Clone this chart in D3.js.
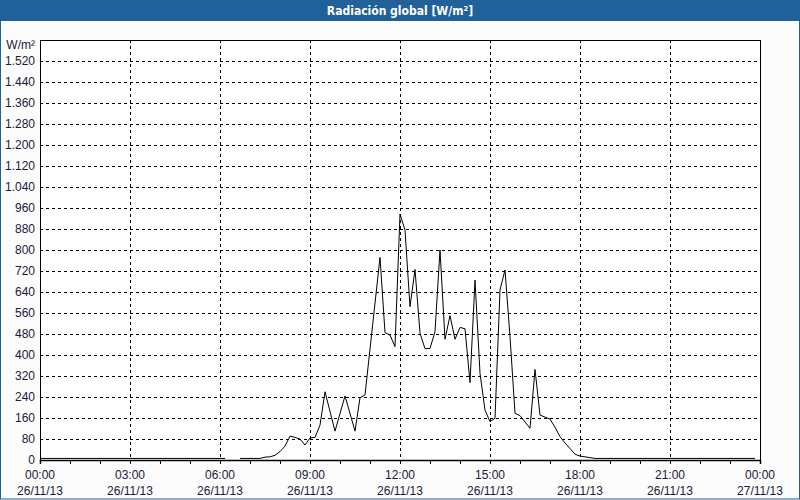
<!DOCTYPE html>
<html>
<head>
<meta charset="utf-8">
<script src="https://cdn.jsdelivr.net/npm/d3@7"></script>
<style>
  html, body { margin: 0; padding: 0; background: #fbfcfb; }
  svg { display: block; }
</style>
</head>
<body>
<svg id="chart" width="800" height="500"></svg>
<script>
const title = 'Radiación global [W/m²]';
const unitLabel = 'W/m²';

// first segment (night, before the data gap)
const times1 = ['00:00', '06:10'];
const values1 = [6, 6];

// second segment (after the gap)
const times2 = [
  '06:40', '07:20', '07:30', '07:40', '07:50', '08:00', '08:10', '08:20', '08:30', '08:40',
  '08:50', '09:00', '09:10', '09:20', '09:30', '09:50', '10:10', '10:30', '10:40', '10:50',
  '11:20', '11:30', '11:40', '11:50', '12:00', '12:10', '12:20', '12:30', '12:40', '12:50',
  '13:00', '13:10', '13:20', '13:30', '13:40', '13:50', '14:00', '14:10', '14:20', '14:30',
  '14:40', '14:50', '15:00', '15:10', '15:20', '15:30', '15:40', '15:50', '16:00', '16:20',
  '16:30', '16:40', '17:00', '17:10', '17:20', '17:30', '17:40', '17:50', '18:00', '18:20',
  '18:30', '23:50'
];
const values2 = [
  6, 6, 11, 12, 18, 32, 53, 91, 86, 80,
  57, 84, 86, 133, 260, 110, 244, 110, 237, 248,
  772, 485, 476, 432, 937, 876, 584, 726, 483, 424,
  425, 489, 800, 460, 550, 460, 505, 500, 295, 685,
  330, 190, 146, 159, 648, 724, 470, 178, 169, 121,
  345, 171, 156, 125, 89, 65, 44, 22, 15, 9,
  6, 6
];

const yTicks = d3.range(0, 1600, 80);
const xTicks = [0, 3, 6, 9, 12, 15, 18, 21, 24];
const xTickLabels = ['00:00', '03:00', '06:00', '09:00', '12:00', '15:00', '18:00', '21:00', '00:00'];
const xTickDates = ['26/11/13', '26/11/13', '26/11/13', '26/11/13', '26/11/13', '26/11/13', '26/11/13', '26/11/13', '27/11/13'];

const toHours = s => { const [h, m] = s.split(':').map(Number); return h + m / 60; };

const width = 800, height = 500;
const margin = { top: 40, right: 40, bottom: 40, left: 40 };

const svg = d3.select('#chart');

// window frame
svg.append('rect')
  .attr('x', 0.5).attr('y', 0.5)
  .attr('width', width - 1).attr('height', height - 1.5)
  .attr('fill', '#fbfcfb')
  .attr('stroke', '#1f6198');

// title bar
svg.append('rect')
  .attr('x', 0).attr('y', 0)
  .attr('width', width).attr('height', 21)
  .attr('fill', '#1f6198');

svg.append('text')
  .attr('x', width / 2).attr('y', 15)
  .attr('text-anchor', 'middle')
  .attr('fill', '#fff')
  .attr('font-family', 'Tahoma, "DejaVu Sans Condensed", "DejaVu Sans", sans-serif')
  .attr('font-weight', 'bold')
  .attr('font-size', '12px')
  .text(title);

const x = d3.scaleLinear().domain([0, 24]).range([margin.left, width - margin.right]);
const y = d3.scaleLinear().domain([0, 1600]).range([height - margin.bottom, margin.top]);

const g = svg.append('g');

g.append('rect')
  .attr('x', x(0)).attr('y', y(1600))
  .attr('width', x(24) - x(0)).attr('height', y(0) - y(1600))
  .attr('fill', '#fff');

// horizontal grid
g.append('g')
  .selectAll('line')
  .data(yTicks.filter(d => d > 0))
  .join('line')
  .attr('x1', x(0)).attr('x2', x(24))
  .attr('y1', d => Math.round(y(d)) + 0.5).attr('y2', d => Math.round(y(d)) + 0.5)
  .attr('stroke', '#000')
  .attr('stroke-dasharray', '3,3')
  .attr('shape-rendering', 'crispEdges');

// vertical grid
g.append('g')
  .selectAll('line')
  .data(xTicks.slice(1, -1))
  .join('line')
  .attr('x1', d => Math.round(x(d)) + 0.5).attr('x2', d => Math.round(x(d)) + 0.5)
  .attr('y1', y(1600)).attr('y2', y(0))
  .attr('stroke', '#000')
  .attr('stroke-dasharray', '3,3')
  .attr('shape-rendering', 'crispEdges');

// frame
g.append('rect')
  .attr('x', x(0) + 0.5).attr('y', y(1600) + 0.5)
  .attr('width', x(24) - x(0)).attr('height', y(0) - y(1600))
  .attr('fill', 'none')
  .attr('stroke', '#000')
  .attr('shape-rendering', 'crispEdges');

const fmt = d3.formatLocale({ decimal: ',', thousands: '.', grouping: [3], currency: ['', '€'] }).format(',d');
const labelFont = 'Tahoma, "Liberation Sans", sans-serif';

// Y axis
g.append('g')
  .attr('transform', `translate(${x(0)},0)`)
  .call(d3.axisLeft(y).tickValues(yTicks).tickSize(0).tickPadding(5).tickFormat(fmt))
  .call(a => a.select('.domain').remove())
  .selectAll('text')
  .attr('fill', '#1a1a3a')
  .attr('font-family', labelFont)
  .attr('font-size', '12px');

svg.append('text')
  .attr('x', 35).attr('y', y(1600) + 9)
  .attr('text-anchor', 'end')
  .attr('fill', '#1a1a3a')
  .attr('font-family', labelFont)
  .attr('font-size', '12px')
  .text(unitLabel);

// X axis (hourly ticks)
const xAxis = g.append('g')
  .attr('transform', `translate(0,${y(0)})`)
  .call(d3.axisBottom(x).tickValues(d3.range(0, 25, 1)).tickSize(4).tickFormat(''))
  .call(a => a.select('.domain').attr('stroke', '#000').attr('stroke-width', 1.5));
xAxis.selectAll('line').attr('stroke', '#000');

const xl = g.append('g')
  .selectAll('text')
  .data(xTicks)
  .join('text')
  .attr('x', d => x(d))
  .attr('text-anchor', 'middle')
  .attr('fill', '#1a1a3a')
  .attr('font-family', labelFont)
  .attr('font-size', '12px');
xl.append('tspan').attr('x', d => x(d)).attr('y', y(0) + 19).text((d, i) => xTickLabels[i]);
xl.append('tspan').attr('x', d => x(d)).attr('y', y(0) + 35).text((d, i) => xTickDates[i]);

// data line
const line = d3.line()
  .x(d => x(d[0]))
  .y(d => y(d[1]));

const seg1 = times1.map((t, i) => [toHours(t), values1[i]]);
const seg2 = times2.map((t, i) => [toHours(t), values2[i]]);

[seg1, seg2].forEach(seg => {
  g.append('path')
    .datum(seg)
    .attr('fill', 'none')
    .attr('stroke', '#000')
    .attr('stroke-width', 1)
    .attr('d', line);
});
</script>
</body>
</html>
